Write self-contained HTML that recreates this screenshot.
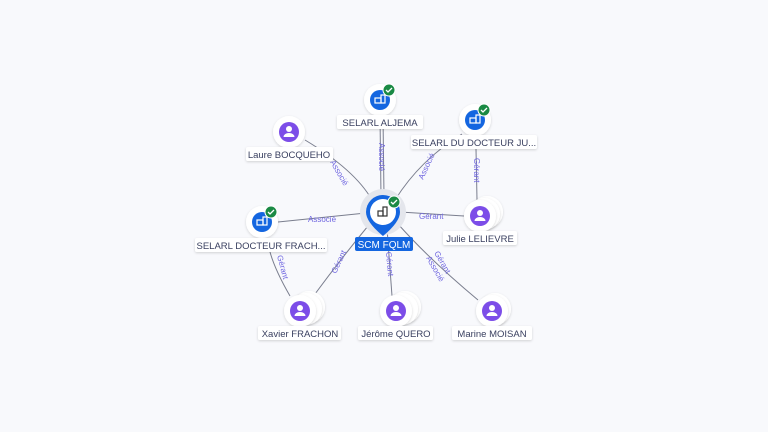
<!DOCTYPE html><html><head><style>body{margin:0;background:#f8f9fc;}svg{display:block;font-family:"Liberation Sans",sans-serif}</style></head><body>
<svg width="768" height="432" viewBox="0 0 768 432">
<defs>
<filter id="sh" x="-30%" y="-30%" width="160%" height="160%"><feDropShadow dx="0" dy="1" stdDeviation="1.2" flood-color="#000" flood-opacity="0.16"/></filter>
<g id="ring"><circle r="16" fill="#fff" filter="url(#sh)"/></g>
<g id="person"><circle r="16" fill="#fff" filter="url(#sh)"/><circle r="10" fill="#7c4de8"/><circle cy="-3" r="3" fill="#fff"/><path d="M-5.5 5 a5.5 4 0 0 1 11 0z" fill="#fff"/></g>
<g id="co"><circle r="16" fill="#fff" filter="url(#sh)"/><circle r="10" fill="#1466e0"/><rect x="-5" y="-2" width="6" height="5" fill="none" stroke="#fff" stroke-width="1.2"/><rect x="1" y="-5" width="4" height="8" fill="none" stroke="#fff" stroke-width="1.2"/><circle cx="9" cy="-10" r="6" fill="#1a8a44" stroke="#fff" stroke-width="1"/><path d="M6 -10 l2 2 l4 -4" stroke="#fff" stroke-width="1.3" fill="none"/></g>
</defs>
<g stroke="#7a7e8e" stroke-width="1" fill="none">
<path d="M380 116 L381 196"/><path d="M383 116 L384 196"/>
<path d="M305 140 Q355 170 372 200"/>
<path d="M462 134 Q420 160 395 200"/>
<path d="M278 222 L366 213"/>
<path d="M464 216 L400 212"/>
<path d="M476 149 L477 200"/>
<path d="M290 296 Q275 270 270 252"/>
<path d="M312 298 Q340 260 368 226"/>
<path d="M392 296 L387 228"/>
<path d="M478 300 Q430 260 398 224"/>
</g>
<g fill="#6f66e0" font-size="8">
<text transform="translate(379,143) rotate(90)">Associé</text>
<text transform="translate(330,162) rotate(60)">Associé</text>
<text transform="translate(423,180) rotate(-65)">Associé</text>
<text x="308" y="222">Associé</text>
<text x="419" y="219">Gérant</text>
<text transform="translate(474,158) rotate(90)">Gérant</text>
<text transform="translate(277,256) rotate(75)">Gérant</text>
<text transform="translate(336,274) rotate(-65)">Gérant</text>
<text transform="translate(386,252) rotate(85)">Gérant</text>
<text transform="translate(434,253) rotate(60)">Gérant</text>
<text transform="translate(426,258) rotate(60)">Associé</text>
</g>
<circle cx="383" cy="212" r="23" fill="#e4e6ec"/>
<path d="M366 212 a17 17 0 1 1 34 0 q0 10 -17 24 q-17 -14 -17 -24z" fill="#1466e0"/>
<circle cx="383" cy="212" r="13" fill="#fff"/>
<rect x="378" y="211" width="5" height="5" fill="none" stroke="#333" stroke-width="1.2"/><rect x="383" y="207" width="4" height="9" fill="none" stroke="#333" stroke-width="1.2"/>
<circle cx="394" cy="202" r="6" fill="#1a8a44" stroke="#fff"/><path d="M391 202 l2 2 l4 -4" stroke="#fff" stroke-width="1.3" fill="none"/>
<rect x="355" y="237" width="58" height="14" rx="2" fill="#1466e0"/><text x="384" y="248" font-size="10" fill="#fff" text-anchor="middle">SCM FQLM</text>
<use href="#co" x="380" y="100"/><use href="#person" x="289" y="132"/><use href="#co" x="475" y="120"/><use href="#co" x="262" y="222"/>
<use href="#ring" x="487" y="212"/><use href="#ring" x="484" y="214"/><use href="#person" x="480" y="216"/>
<use href="#ring" x="309" y="307"/><use href="#ring" x="306" y="309"/><use href="#person" x="300" y="311"/>
<use href="#ring" x="405" y="307"/><use href="#ring" x="402" y="309"/><use href="#person" x="396" y="311"/>
<use href="#ring" x="495" y="309"/><use href="#person" x="492" y="311"/>
<g font-size="9.5" fill="#3a4060" text-anchor="middle">
<rect x="337" y="115" width="86" height="14" rx="2" fill="#fff" filter="url(#sh)"/><text x="380" y="126">SELARL ALJEMA</text>
<rect x="246" y="147" width="87" height="14" rx="2" fill="#fff" filter="url(#sh)"/><text x="289" y="158">Laure BOCQUEHO</text>
<rect x="411" y="135" width="126" height="14" rx="2" fill="#fff" filter="url(#sh)"/><text x="474" y="146">SELARL DU DOCTEUR JU...</text>
<rect x="195" y="238" width="132" height="14" rx="2" fill="#fff" filter="url(#sh)"/><text x="261" y="249">SELARL DOCTEUR FRACH...</text>
<rect x="443" y="231" width="74" height="14" rx="2" fill="#fff" filter="url(#sh)"/><text x="480" y="242">Julie LELIEVRE</text>
<rect x="258" y="326" width="83" height="14" rx="2" fill="#fff" filter="url(#sh)"/><text x="300" y="337">Xavier FRACHON</text>
<rect x="358" y="326" width="75" height="14" rx="2" fill="#fff" filter="url(#sh)"/><text x="396" y="337">Jérôme QUERO</text>
<rect x="452" y="326" width="80" height="14" rx="2" fill="#fff" filter="url(#sh)"/><text x="492" y="337">Marine MOISAN</text>
</g>
</svg></body></html>
